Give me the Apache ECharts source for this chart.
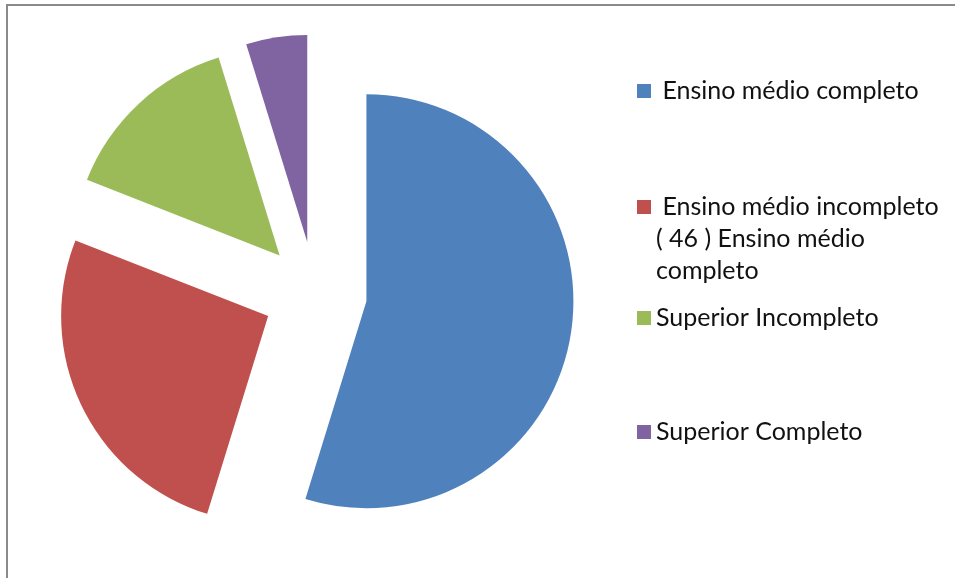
<!DOCTYPE html>
<html>
<head>
<meta charset="utf-8">
<title>Escolaridade</title>
<script src="https://cdn.jsdelivr.net/npm/echarts@6/dist/echarts.min.js"></script>
<style>
  html, body { margin: 0; padding: 0; background: #ffffff; }
  #chart { width: 955px; height: 578px; }
</style>
</head>
<body>
<div id="chart"></div>
<script>
// Categories and counts per schooling level
const categories = [
  'Ensino médio completo',
  'Ensino médio incompleto',
  'Superior Incompleto',
  'Superior Completo'
];
const counts = [46, 22, 12, 4];
// Text shown next to each legend swatch
const legendLabels = [
  ' Ensino médio completo',
  ' Ensino médio incompleto\n( 46 ) Ensino médio\ncompleto',
  'Superior Incompleto',
  'Superior Completo'
];
const colors = ['#4F81BD', '#C0504D', '#9BBB59', '#8064A2'];

const FONT = 'Lato';
const FONT_SIZE = 25;
const LINE_H = 32;

const chart = echarts.init(document.getElementById('chart'), null, { renderer: 'canvas' });

// The legend centres a label block on its swatch; prepend blank lines so the
// first line of a multi-line label stays level with the swatch.
function alignFirstLine(text) {
  const extra = text.split('\n').length - 1;
  return '\n'.repeat(extra) + text;
}

// One legend block per category so each sits at its own height
const legendTops = [75, 127, 302, 416];
const legends = categories.map((name, i) => ({
  orient: 'vertical',
  left: 637,
  top: legendTops[i],
  padding: 0,
  itemWidth: 14,
  itemHeight: 14,
  icon: 'rect',
  selectedMode: false,
  data: [name],
  formatter: () => alignFirstLine(legendLabels[i]),
  textStyle: {
    fontFamily: FONT,
    fontSize: FONT_SIZE,
    lineHeight: LINE_H,
    color: '#111111'
  }
}));

const option = {
  animation: false,
  backgroundColor: '#ffffff',
  color: colors,
  legend: legends,
  graphic: [
    { type: 'line', shape: { x1: 7, y1: 4, x2: 7, y2: 578 }, style: { stroke: '#8a8a8a', lineWidth: 2 }, silent: true },
    { type: 'line', shape: { x1: 6, y1: 5, x2: 955, y2: 5 }, style: { stroke: '#8a8a8a', lineWidth: 2 }, silent: true }
  ],
  series: [{
    type: 'pie',
    center: [315, 293.5],
    radius: 207,
    startAngle: 90,
    clockwise: true,
    selectedMode: 'multiple',
    selectedOffset: 52,
    label: { show: false },
    labelLine: { show: false },
    emphasis: { disabled: true },
    select: { itemStyle: { borderWidth: 0 } },
    itemStyle: { borderWidth: 0 },
    data: categories.map((name, i) => ({ name, value: counts[i], selected: true }))
  }]
};

chart.setOption(option);
</script>
</body>
</html>
